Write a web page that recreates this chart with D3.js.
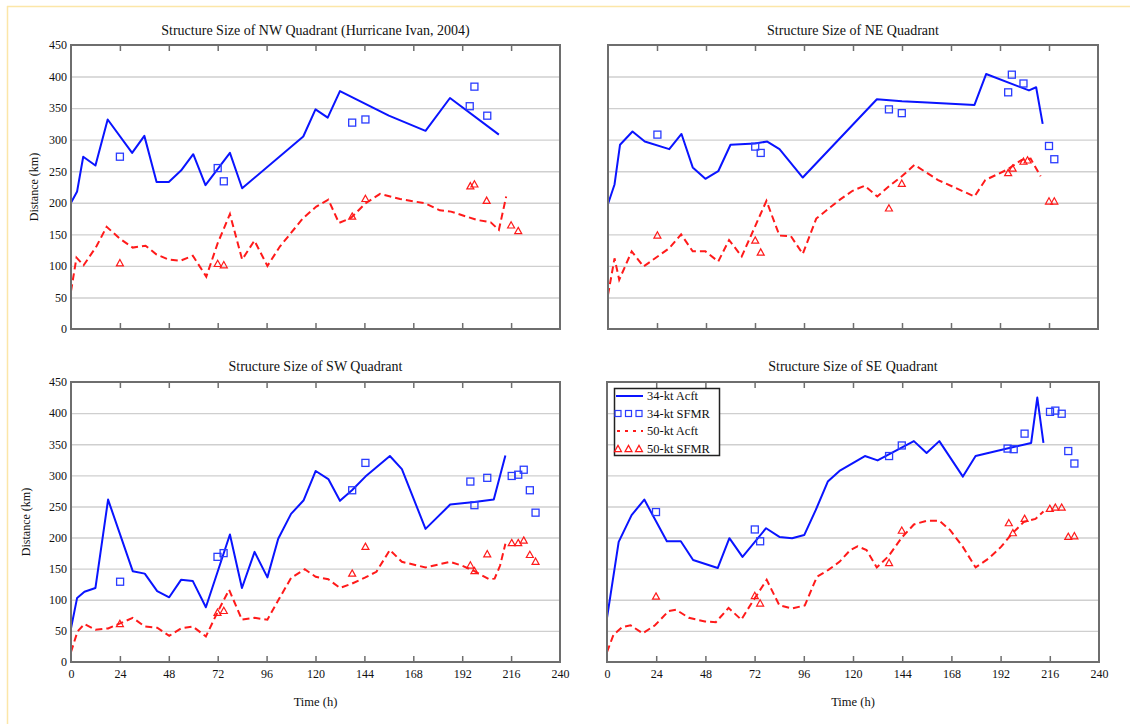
<!DOCTYPE html>
<html>
<head>
<meta charset="utf-8">
<script src="https://cdn.jsdelivr.net/npm/d3@7"></script>
<style>
  html, body { margin: 0; padding: 0; background: #ffffff; }
  svg { display: block; }
  text { font-family: "Liberation Serif", "DejaVu Serif", serif; fill: #111; }
</style>
</head>
<body>
<svg id="chart" width="1130" height="724"></svg>
<script>
// Hurricane Ivan (2004): radius of 34-kt and 50-kt winds by quadrant,
// aircraft flight-level estimates (lines) and SFMR retrievals (markers).
// Each series is a list of [hour, distance km].

const timeTicks = [0, 24, 48, 72, 96, 120, 144, 168, 192, 216, 240];
const distTicks = [0, 50, 100, 150, 200, 250, 300, 350, 400, 450];

// ---- NW quadrant ----
const nwAcft34 = [[0,200],[3,218],[6,273],[12,259],[18,332],[30,279],[36,306],[42,233],[48,233],[54,251],[60,277],[66,228],[78,279],[84,223],[114,305],[120,348],[126,335],[132,377],[156,338],[174,314],[186,366],[210,308]];
const nwSfmr34 = [[24,273],[72,255],[75,234],[138,327],[144.5,332],[195.7,353],[198,384],[204.3,338]];
const nwAcft50 = [[0,60],[2.7,113],[6.2,101],[12.5,131],[17.5,162],[24,143],[30.3,129],[36.6,132],[42,118],[48,110],[53.5,108],[59.8,116],[66.4,83],[72,136],[78,182],[84,110],[90,140],[96.4,100],[102.6,131],[114,176],[120.4,194],[126.3,205],[131.5,168],[137.4,176],[144.5,199],[151.7,214],[161.5,206],[174,199],[181,188],[186.5,186],[199,173],[206,169],[210,157],[213.6,210]];
const nwSfmr50 = [[24,105],[72,104],[75,102],[138,179],[144.5,207],[196,227],[198,230],[204,204],[216,165],[219.5,156]];

// ---- NE quadrant ----
const neAcft34 = [[0,198],[3.2,229],[5.9,292],[12,313],[18,297],[30,285],[36,309],[41.5,256],[47.7,238],[54,250],[60,292],[72,294],[78,297],[84,285],[95.4,240],[131.7,364],[144,361],[156.3,359],[179.5,355],[185.2,404],[206.2,378],[209.7,383],[212.9,325]];
const neSfmr34 = [[24.2,308],[72.1,289],[74.8,279],[137.6,348],[143.9,342],[196,375],[197.8,403],[203.5,389],[216,290],[218.6,269]];
const neAcft50 = [[0,54],[3.2,112],[5.5,78],[11.6,123],[17.4,99],[30,128],[35.8,150],[41.5,123],[47.7,123],[54,107],[59.3,141],[65.5,115],[77.6,203],[84,148],[89.6,147],[95.4,119],[102,175],[113.6,205],[119.8,219],[125.7,227],[131.9,210],[137.6,226],[143.9,242],[150.1,260],[161.7,236],[179.5,210],[184.8,236],[195.8,253],[202.6,268],[207,270],[211.9,242]];
const neSfmr50 = [[24.2,149],[72.1,141],[74.8,122],[137.6,192],[143.9,231],[196,248],[198.2,255],[203.5,266],[205.5,268],[216,203],[218.6,203]];

// ---- SW quadrant ----
const swAcft34 = [[0,54],[3,103],[6.6,113],[12,119],[18.2,261],[30.3,146],[36.2,142],[42.3,114],[48.2,104],[54,132],[59.8,130],[66.2,88],[78,205],[83.9,119],[90.1,177],[96.4,136],[101.7,198],[108,238],[114.2,260],[120.1,307],[126.3,294],[132,259],[137.9,276],[144.5,298],[156.5,331],[162.4,310],[174,214],[186.1,253],[198,257],[207.5,261],[213.2,332]];
const swSfmr34 = [[24.1,129],[71.9,169],[74.9,175],[138,276],[144.5,320],[196,290],[198,252],[204.3,296],[216.3,299],[219.5,301],[222.2,309],[225.2,276],[228,240]];
const swAcft50 = [[0,16],[3.2,49],[6.6,61],[12,52],[18.2,54],[24.1,62],[30.3,71],[36.2,57],[42.3,55],[48.2,42],[54,54],[59.8,57],[66.2,41],[71.9,80],[77.6,116],[83.9,68],[90.1,71],[96.4,68],[102.2,102],[108,135],[114.7,149],[120.1,137],[126.3,133],[132,119],[137.9,126],[144.5,136],[149.9,145],[156.5,180],[162.4,161],[174,152],[186.1,161],[191.8,155],[198,146],[205.2,133],[207.9,134],[210.6,155],[213.2,190]];
const swSfmr50 = [[24,62],[71.9,80],[75,83],[138,143],[144.5,186],[196,156],[198,147],[204.3,174],[216.3,192],[219.5,192],[222.2,196],[225.2,173],[228,162]];

// ---- SE quadrant ----
const seAcft34 = [[0,71],[5.7,193],[12,236],[18.2,261],[29.2,194],[36,194],[42,164],[54,151],[59.7,199],[66.1,169],[77.6,215],[84.1,201],[90.3,199],[96.2,204],[101.8,244],[107.7,290],[113.4,307],[125.8,331],[132,324],[149.7,355],[155.9,336],[162.1,355],[173.6,298],[179.8,331],[195.2,343],[206.9,352],[209.9,425],[212.9,352]];
const seSfmr34 = [[23.9,241],[72.1,213],[74.7,194],[137.6,331],[143.8,348],[195.4,343],[198.4,342],[203.7,367],[216.1,402],[218.7,404],[221.8,399],[225,339],[228,319]];
const seAcft50 = [[0,16],[3.2,44],[7.4,56],[11.5,59],[17.4,46],[23.4,59],[30.1,82],[33.7,84],[39.9,71],[47.8,65],[53.1,64],[59.3,87],[65.5,68],[70.8,96],[77.9,132],[84.1,91],[90.3,86],[96.5,91],[102.4,137],[108,148],[113.4,161],[118.7,180],[122.2,186],[126.6,180],[131.6,152],[137.3,170],[143.8,200],[149.7,221],[155.9,227],[162.1,227],[167.4,212],[173.6,185],[179.8,152],[186,166],[192.2,185],[197.5,206],[203.3,225],[209,230],[212.9,242]];
const seSfmr50 = [[23.9,106],[72.1,107],[74.7,95],[137.6,160],[143.8,212],[196,224],[198,208],[203.7,231],[216,247],[218.7,249],[221.8,249],[225,202],[228,203]];

const legendLabels = ["34-kt Acft", "34-kt SFMR", "50-kt Acft", "50-kt SFMR"];

const BLUE = "#0a14ff";
const BLUE_MARK = "#2a3cff";
const RED = "#ff1a1a";

const panels = [
  { title: "Structure Size of NW Quadrant (Hurricane Ivan, 2004)", acft34: nwAcft34, sfmr34: nwSfmr34, acft50: nwAcft50, sfmr50: nwSfmr50,
    box: [71, 45, 560, 329], yLabels: true, xLabels: false, yTitleX: 34, titleY: 35 },
  { title: "Structure Size of NE Quadrant", acft34: neAcft34, sfmr34: neSfmr34, acft50: neAcft50, sfmr50: neSfmr50,
    box: [608, 45, 1098, 329], yLabels: false, xLabels: false, titleY: 35 },
  { title: "Structure Size of SW Quadrant", acft34: swAcft34, sfmr34: swSfmr34, acft50: swAcft50, sfmr50: swSfmr50,
    box: [71, 382, 560, 662], yLabels: true, xLabels: true, yTitleX: 26, titleY: 371 },
  { title: "Structure Size of SE Quadrant", acft34: seAcft34, sfmr34: seSfmr34, acft50: seAcft50, sfmr50: seSfmr50,
    box: [607, 382, 1099, 662], yLabels: false, xLabels: true, titleY: 371, legend: true }
];

const svg = d3.select("#chart");

// pale page border along the top and left
svg.append("line").attr("x1", 7).attr("x2", 1130).attr("y1", 6.5).attr("y2", 6.5)
  .attr("stroke", "#fce6a8").attr("stroke-width", 1.5);
svg.append("line").attr("x1", 7.5).attr("x2", 7.5).attr("y1", 6).attr("y2", 724)
  .attr("stroke", "#fce6a8").attr("stroke-width", 1.5);

const triPath = (cx, cy, s) => {
  const h = s * 0.9;
  return `M${cx},${cy - h / 2}L${cx + s / 2},${cy + h / 2}L${cx - s / 2},${cy + h / 2}Z`;
};

panels.forEach(p => {
  const [x0, y0, x1, y1] = p.box;
  const x = d3.scaleLinear().domain([0, 240]).range([x0, x1]);
  const y = d3.scaleLinear().domain([0, 450]).range([y1, y0]);
  const g = svg.append("g");

  // horizontal grid
  const grid = g.append("g").attr("transform", `translate(${x0},0)`)
    .call(d3.axisLeft(y).tickValues(distTicks.slice(1, -1)).tickSize(-(x1 - x0)).tickFormat(""));
  grid.select(".domain").remove();
  grid.selectAll("line").attr("stroke", "#cfcfcf").attr("stroke-width", 1.4);

  // tick marks on top and bottom edges
  const inner = timeTicks.slice(1, -1);
  const tTop = g.append("g").attr("transform", `translate(0,${y0})`)
    .call(d3.axisTop(x).tickValues(inner).tickSize(-6).tickFormat(""));
  const tBot = g.append("g").attr("transform", `translate(0,${y1})`)
    .call(d3.axisBottom(x).tickValues(inner).tickSize(-6).tickFormat(""));
  [tTop, tBot].forEach(a => {
    a.select(".domain").remove();
    a.selectAll("line").attr("stroke", "#6e6e6e").attr("stroke-width", 1.5);
  });

  // y tick labels
  if (p.yLabels) {
    const ay = g.append("g").attr("transform", `translate(${x0},0)`)
      .call(d3.axisLeft(y).tickValues(distTicks).tickSize(0).tickPadding(4));
    ay.select(".domain").remove();
    ay.selectAll("text").attr("font-size", 12).attr("font-family", "Liberation Serif").attr("fill", "#111");
    g.append("text")
      .attr("transform", `translate(${p.yTitleX},${(y0 + y1) / 2}) rotate(-90)`)
      .attr("text-anchor", "middle").attr("dy", "0.35em")
      .attr("font-size", 12).text("Distance (km)");
  }

  // x tick labels
  if (p.xLabels) {
    const ax = g.append("g").attr("transform", `translate(0,${y1})`)
      .call(d3.axisBottom(x).tickValues(timeTicks).tickSize(0).tickPadding(7));
    ax.select(".domain").remove();
    ax.selectAll("text").attr("font-size", 12).attr("font-family", "Liberation Serif").attr("fill", "#111");
    g.append("text").attr("x", (x0 + x1) / 2).attr("y", y1 + 44)
      .attr("text-anchor", "middle").attr("font-size", 12.5).text("Time (h)");
  }

  // title
  g.append("text").attr("x", (x0 + x1) / 2).attr("y", p.titleY)
    .attr("text-anchor", "middle").attr("font-size", 14).text(p.title);

  const line = d3.line().x(d => x(d[0])).y(d => y(d[1]));

  g.append("path").datum(p.acft50).attr("d", line)
    .attr("fill", "none").attr("stroke", RED).attr("stroke-width", 2)
    .attr("stroke-dasharray", "7,4");
  g.append("path").datum(p.acft34).attr("d", line)
    .attr("fill", "none").attr("stroke", BLUE).attr("stroke-width", 2)
    .attr("stroke-linejoin", "round");

  g.selectAll(".sq").data(p.sfmr34).enter().append("rect")
    .attr("x", d => x(d[0]) - 3.5).attr("y", d => y(d[1]) - 3.5)
    .attr("width", 7).attr("height", 7)
    .attr("fill", "none").attr("stroke", BLUE_MARK).attr("stroke-width", 1.3);
  g.selectAll(".tri").data(p.sfmr50).enter().append("path")
    .attr("d", d => triPath(x(d[0]), y(d[1]), 7))
    .attr("fill", "none").attr("stroke", RED).attr("stroke-width", 1.2);

  // plot frame
  g.append("rect").attr("x", x0).attr("y", y0).attr("width", x1 - x0).attr("height", y1 - y0)
    .attr("fill", "none").attr("stroke", "#6e6e6e").attr("stroke-width", 2);

  if (p.legend) {
    const lg = g.append("g");
    lg.append("rect").attr("x", 614.5).attr("y", 388.5).attr("width", 105).attr("height", 67)
      .attr("fill", "#fff").attr("stroke", "#222").attr("stroke-width", 1.5);
    const rows = [396, 413.5, 431, 448.5];
    legendLabels.forEach((lab, i) => {
      const ry = rows[i];
      if (i === 0) {
        lg.append("line").attr("x1", 616).attr("x2", 643).attr("y1", ry).attr("y2", ry)
          .attr("stroke", BLUE).attr("stroke-width", 2);
      } else if (i === 2) {
        lg.append("line").attr("x1", 617).attr("x2", 643).attr("y1", ry).attr("y2", ry)
          .attr("stroke", RED).attr("stroke-width", 2).attr("stroke-dasharray", "3,5");
      } else {
        [618, 628.5, 639].forEach(cx => {
          if (i === 1) {
            lg.append("rect").attr("x", cx - 3).attr("y", ry - 3).attr("width", 6).attr("height", 6)
              .attr("fill", "none").attr("stroke", BLUE_MARK).attr("stroke-width", 1.2);
          } else {
            lg.append("path").attr("d", triPath(cx, ry, 7))
              .attr("fill", "none").attr("stroke", RED).attr("stroke-width", 1.2);
          }
        });
      }
      lg.append("text").attr("x", 647).attr("y", ry).attr("dy", "0.35em")
        .attr("font-size", 12.5).text(lab);
    });
  }
});
</script>
</body>
</html>
